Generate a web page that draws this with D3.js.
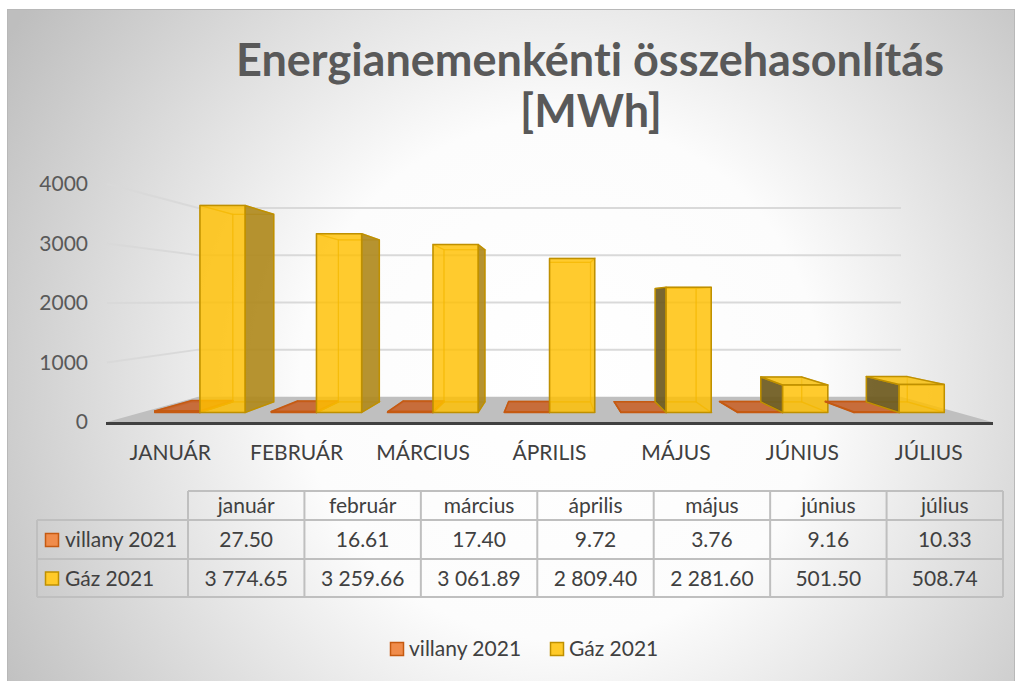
<!DOCTYPE html>
<html>
<head>
<meta charset="utf-8">
<script src="https://d3js.org/d3.v7.min.js"></script>
<style>
  body { margin: 0; background: #fff; }
  text { font-family: Lato, "Open Sans", sans-serif; font-variant-ligatures: none; }
</style>
</head>
<body>
<div id="chart"></div>
<script>
const categories = ["JANUÁR", "FEBRUÁR", "MÁRCIUS", "ÁPRILIS", "MÁJUS", "JÚNIUS", "JÚLIUS"];
const months = ["január", "február", "március", "április", "május", "június", "július"];
const seriesNames = ["villany 2021", "Gáz 2021"];
const villany = [27.50, 16.61, 17.40, 9.72, 3.76, 9.16, 10.33];
const gaz = [3774.65, 3259.66, 3061.89, 2809.40, 2281.60, 501.50, 508.74];
const yTicks = [0, 1000, 2000, 3000, 4000];

const W = 1019, H = 681;
const svg = d3.select("#chart").append("svg").attr("width", W).attr("height", H);

// background
const defs = svg.append("defs");
const bg = defs.append("radialGradient").attr("id", "bg")
    .attr("gradientUnits", "userSpaceOnUse")
    .attr("cx", 560).attr("cy", 380).attr("r", 650);
bg.append("stop").attr("offset", 0).attr("stop-color", "#ffffff");
bg.append("stop").attr("offset", 0.4).attr("stop-color", "#fcfcfc");
bg.append("stop").attr("offset", 1).attr("stop-color", "#bebebe");

svg.append("rect").attr("x", 7.5).attr("y", 9.5).attr("width", 1007).attr("height", 690)
    .attr("fill", "url(#bg)").attr("stroke", "#b8b8b8").attr("stroke-width", 1);

// title
const title = svg.append("text").attr("text-anchor", "middle")
    .attr("fill", "#595959").attr("font-weight", "bold").attr("font-size", 45);
title.append("tspan").attr("x", 590).attr("y", 76).text("Energianemenkénti összehasonlítás");
title.append("tspan").attr("x", 591).attr("y", 127).text("[MWh]");

// ---------- 3D plot ----------
const vp = [550, 300];   // vanishing point
const x = d3.scaleBand().domain(categories).range([107, 992]);
const xs = d3.scaleBand().domain(seriesNames).range([0, x.bandwidth()]).paddingOuter(0.29);
const y = d3.scaleLinear().domain([0, 4000]).range([422, 184]);
const depth = d3.scaleLinear().domain([0, 1]).range([1, 0.794]); // 0 = front edge, 1 = back wall
const sWall = depth(1), s1 = depth(0.38), s2 = depth(0.8);

function proj(px, py, s) {
    return [vp[0] + (px - vp[0]) * s, vp[1] + (py - vp[1]) * s];
}
const line = d3.line();
const poly = pts => line(pts) + "Z";

const plot = svg.append("g");
const [xl, xr] = x.range();

// floor
plot.append("path")
    .attr("d", poly([proj(xl, y(0), 1), proj(xr, y(0), 1), proj(xr, y(0), sWall), proj(xl, y(0), sWall)]))
    .attr("fill", "#bfbfbf");
plot.append("line")
    .attr("x1", xl - 1).attr("x2", xr + 1).attr("y1", y(0) + 1.5).attr("y2", y(0) + 1.5)
    .attr("stroke", "#404040").attr("stroke-width", 3);

// gridlines: back wall and left wall
yTicks.filter(t => t > 0).forEach(t => {
    const a = proj(xl, y(t), 1), b = proj(xl, y(t), sWall), c = proj(xr, y(t), sWall);
    plot.append("path").attr("d", line([a, b, c]))
        .attr("fill", "none").attr("stroke", "#d9d9d9").attr("stroke-width", 2);
});

const styles = {
    "villany 2021": { front: "#ed7d31", top: "#c8642c", sideL: "#8f4516", sideR: "#b0571f", stroke: "#c55a11" },
    "Gáz 2021": { front: "#ffc000", top: "#f7c21a", sideL: "#6e5a1e", sideR: "#b08a1e", stroke: "#bf9000" }
};

function drawBox(g, x0, x1, v, st) {
    const F = (px, val) => proj(px, y(val), s1);
    const B = (px, val) => proj(px, y(val), s2);
    const faces = {
        front: [F(x0, 0), F(x1, 0), F(x1, v), F(x0, v)],
        back: [B(x0, 0), B(x1, 0), B(x1, v), B(x0, v)],
        top: [F(x0, v), F(x1, v), B(x1, v), B(x0, v)],
        bottom: [F(x0, 0), F(x1, 0), B(x1, 0), B(x0, 0)],
        left: [F(x0, 0), F(x0, v), B(x0, v), B(x0, 0)],
        right: [F(x1, 0), F(x1, v), B(x1, v), B(x1, 0)]
    };
    const topVis = y(v) > vp[1];
    const leftVis = x0 > vp[0];
    const rightVis = x1 < vp[0];
    // hidden edges seen through the transparent bar
    const hidden = ["back", "bottom"];
    if (!topVis) hidden.push("top");
    if (!leftVis) hidden.push("left");
    if (!rightVis) hidden.push("right");
    hidden.forEach(k => {
        g.append("path").attr("d", poly(faces[k]))
            .attr("fill", "none").attr("stroke", st.stroke).attr("stroke-opacity", 0.5).attr("stroke-width", 1.2);
    });
    const fillFace = (k, color, op) => g.append("path").attr("d", poly(faces[k]))
        .attr("fill", color).attr("fill-opacity", op)
        .attr("stroke", st.stroke).attr("stroke-width", 1.5).attr("stroke-linejoin", "round");
    if (leftVis) fillFace("left", st.sideL, 0.92);
    if (rightVis) fillFace("right", st.sideR, 0.92);
    if (topVis) fillFace("top", st.top, 0.9);
    fillFace("front", st.front, 0.82);
}

const bars = plot.append("g");
categories.forEach((c, i) => {
    const vals = [villany[i], gaz[i]];
    seriesNames.forEach((name, j) => {
        const x0 = x(c) + xs(name), x1 = x0 + xs.bandwidth();
        drawBox(bars.append("g"), x0, x1, vals[j], styles[name]);
    });
});

// y axis labels
svg.append("g").selectAll("text").data(yTicks).join("text")
    .attr("x", 88).attr("y", d => y(d)).attr("dy", "0.35em")
    .attr("text-anchor", "end").attr("font-size", 21).attr("fill", "#595959")
    .text(d => d);

// category labels
svg.append("g").selectAll("text").data(categories).join("text")
    .attr("x", d => x(d) + x.bandwidth() / 2).attr("y", 453).attr("dy", "0.35em")
    .attr("text-anchor", "middle").attr("font-size", 21).attr("fill", "#404040")
    .text(d => d);

// ---------- data table ----------
const fmt = d3.formatLocale({ decimal: ".", thousands: " ", grouping: [3], currency: ["", ""] }).format(",.2f");
const col = d3.scaleBand().domain(months).range([188, 1003]);
const rowY = [491, 520, 559, 597];
const tableLeft = 37;
const tbl = svg.append("g").attr("stroke", "#bfbfbf").attr("stroke-width", 2);
tbl.append("line").attr("x1", col.range()[0]).attr("x2", col.range()[1]).attr("y1", rowY[0]).attr("y2", rowY[0]);
rowY.slice(1).forEach(ry => tbl.append("line").attr("x1", tableLeft).attr("x2", col.range()[1]).attr("y1", ry).attr("y2", ry));
tbl.append("line").attr("x1", tableLeft).attr("x2", tableLeft).attr("y1", rowY[1]).attr("y2", rowY[3]);
months.concat([null]).forEach(m => {
    const cx = m ? col(m) : col.range()[1];
    tbl.append("line").attr("x1", cx).attr("x2", cx).attr("y1", rowY[0]).attr("y2", rowY[3]);
});

const cellText = svg.append("g").attr("font-size", 21).attr("fill", "#404040").attr("text-anchor", "middle");
cellText.selectAll(".hdr").data(months).join("text").attr("class", "hdr")
    .attr("x", d => col(d) + col.bandwidth() / 2).attr("y", 506).attr("dy", "0.35em").text(d => d);
[villany, gaz].forEach((vals, r) => {
    const cy = [540, 578.5][r];
    cellText.selectAll(".r" + r).data(vals).join("text").attr("class", "r" + r)
        .attr("x", (d, i) => col(months[i]) + col.bandwidth() / 2).attr("y", cy).attr("dy", "0.35em")
        .text(d => fmt(d));
});

const keyFill = { "villany 2021": "#f08c4b", "Gáz 2021": "#ffca28" };
seriesNames.forEach((name, r) => {
    const cy = [540, 578.5][r];
    svg.append("rect").attr("x", 45.5).attr("y", cy - 6.5).attr("width", 13).attr("height", 13)
        .attr("fill", keyFill[name]).attr("stroke", styles[name].stroke).attr("stroke-width", 1.5);
    svg.append("text").attr("x", 65).attr("y", cy).attr("dy", "0.35em")
        .attr("font-size", 21).attr("fill", "#404040").text(name);
});

// ---------- legend ----------
const legendX = [390, 550];
seriesNames.forEach((name, i) => {
    svg.append("rect").attr("x", legendX[i] + 0.5).attr("y", 642.5).attr("width", 13).attr("height", 13)
        .attr("fill", keyFill[name]).attr("stroke", styles[name].stroke).attr("stroke-width", 1.5);
    svg.append("text").attr("x", legendX[i] + 19).attr("y", 649).attr("dy", "0.35em")
        .attr("font-size", 21).attr("fill", "#404040").text(name);
});
</script>
</body>
</html>
